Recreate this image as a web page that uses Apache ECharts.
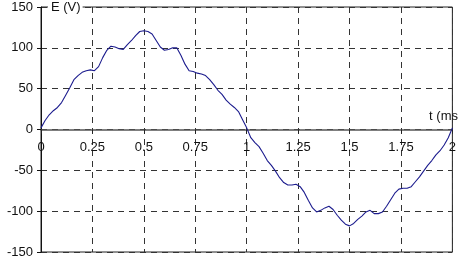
<!DOCTYPE html>
<html>
<head>
<meta charset="utf-8">
<script src="https://cdn.jsdelivr.net/npm/echarts@6/dist/echarts.min.js"></script>
<style>
  html, body { margin: 0; padding: 0; background: #fff; }
  #chart { width: 459px; height: 266px; }
</style>
</head>
<body>
<div id="chart"></div>
<script>
// time in ms, step 0.02
const times = []
for (let i = 0; i <= 100; i++) times.push(+(i * 0.02).toFixed(2))

// E (V)
const volts = [
  2, 11, 18, 23, 27, 33, 42, 51, 61, 66,
  70, 72, 73, 72, 77, 88, 97, 102, 101, 99,
  98, 104, 109, 115, 120, 121, 120, 117, 109, 101,
  97, 98, 100, 100, 91, 80, 72, 71, 69, 68,
  66, 61, 55, 48, 43, 36, 31, 27, 22, 12,
  2, -10, -16, -21, -29, -38, -44, -51, -59, -65,
  -68, -68, -67, -70, -77, -87, -96, -101, -99, -96,
  -94, -98, -105, -111, -116, -118, -115, -110, -106, -101,
  -99, -103, -103, -101, -94, -86, -78, -73, -72, -72,
  -70, -64, -58, -51, -44, -38, -31, -26, -19, -10,
  2
]

const xTicks = [0, 2, 0.25]      // min, max, step
const yTicks = [-150, 150, 50]

const font = 'Liberation Sans, Arial, sans-serif'
const dash = { type: [6, 5], color: '#333', width: 1 }

const chart = echarts.init(document.getElementById('chart'))
chart.setOption({
  animation: false,
  grid: {
    left: 41, right: 4, top: 7, bottom: 14,
    show: true, borderColor: '#222', borderWidth: 1
  },
  xAxis: {
    type: 'value',
    min: xTicks[0], max: xTicks[1], interval: xTicks[2],
    offset: -122.5,   // put the axis on E = 0
    axisLine: { onZero: false, lineStyle: { color: '#555', width: 1.5 } },
    axisTick: { show: true, inside: false, length: 4, lineStyle: { color: '#222' } },
    axisLabel: { color: '#111', fontFamily: font, fontSize: 13, margin: 11, showMaxLabel: true, showMinLabel: true },
    splitLine: { show: true, lineStyle: dash }
  },
  yAxis: {
    type: 'value',
    min: yTicks[0], max: yTicks[1], interval: yTicks[2],
    axisLine: { show: true, onZero: false, lineStyle: { color: '#111', width: 1 } },
    axisTick: { show: true, length: 4, lineStyle: { color: '#111' } },
    axisLabel: { color: '#111', fontFamily: font, fontSize: 13, margin: 8 },
    splitLine: { show: true, lineStyle: dash }
  },
  graphic: [
    {
      type: 'text', left: 48, top: 1, z: 100,
      style: { text: 'E (V)', fontFamily: font, fontSize: 13, fill: '#111',
        backgroundColor: '#fff', padding: [0, 2, 0, 3] }
    },
    {
      type: 'text', right: 1, top: 110, z: 100,
      style: { text: 't (ms', fontFamily: font, fontSize: 13, fill: '#111' }
    }
  ],
  series: [{
    type: 'line',
    data: times.map((t, i) => [t, volts[i]]),
    showSymbol: false,
    lineStyle: { color: '#1c1c8e', width: 1.1 },
    z: 5
  }]
})
</script>
</body>
</html>
